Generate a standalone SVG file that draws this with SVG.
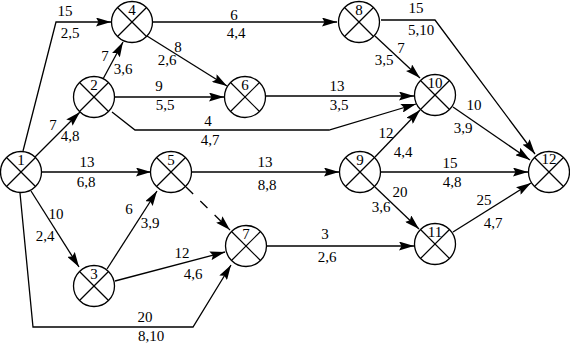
<svg xmlns="http://www.w3.org/2000/svg" width="570" height="344" viewBox="0 0 570 344" font-family="'Liberation Serif', 'DejaVu Serif', 'Times New Roman', serif">
<style>
text{font-family:'Liberation Serif','DejaVu Serif','Times New Roman',serif;font-size:15px;fill:#000;text-anchor:middle}
.c{fill:#fff;stroke:#000;stroke-width:1.3}
.x{stroke:#000;stroke-width:1.2}
.e{fill:none;stroke:#000;stroke-width:1.3;marker-end:url(#ah)}
.d{stroke-dasharray:10,10}
</style>
<defs>
<marker id="ah" markerUnits="userSpaceOnUse" viewBox="0 0 15 9" markerWidth="15" markerHeight="9" refX="15" refY="4.5" orient="auto">
<path d="M0,0 L15,4.5 L0,9 L2.5,4.5 z" fill="#000"/>
</marker>
<g id="cross"><line class="x" x1="-14.5" y1="-14.5" x2="14.5" y2="14.5"/><line class="x" x1="14.5" y1="-14.5" x2="-14.5" y2="14.5"/></g>
</defs>
<rect width="570" height="344" fill="#fff"/>
<g id="connectors">
<path class="e" d="M23,151 L56,22 L111,22"/>
<path class="e" d="M35,157 L80,112"/>
<path class="e" d="M42,172 L151,172"/>
<path class="e" d="M31,191 L79,267"/>
<path class="e" d="M20,193 L33,327 L193,327 L231,265"/>
<path class="e" d="M103,79 L123,42"/>
<path class="e" d="M115,97 L224,97"/>
<path class="e" d="M112,112 L135,130 L329,130 L416,104"/>
<path class="e" d="M147,36 L227,86"/>
<path class="e" d="M153,22 L337,22"/>
<path class="e" d="M266,96 L414,96"/>
<path class="e" d="M375,36 L420,78"/>
<path class="e" d="M381,20 L435,20 L535,154"/>
<path class="e" d="M453,107 L530,160"/>
<path class="e" d="M375,157 L420,110"/>
<path class="e" d="M381,172 L528,172"/>
<path class="e" d="M375,187 L419,229"/>
<path class="e" d="M192,172 L339,172"/>
<path class="e d" d="M186,187 L230,230"/>
<path class="e" d="M107,269 L157,191"/>
<path class="e" d="M115,281 L225,252"/>
<path class="e" d="M267,246 L414,246"/>
<path class="e" d="M453,232 L531,183"/>
<text x="65" y="16">15</text><text x="70" y="38">2,5</text>
<text x="53" y="130">7</text><text x="70" y="141">4,8</text>
<text x="87" y="167">13</text><text x="86" y="187">6,8</text>
<text x="56" y="219">10</text><text x="45" y="241">2,4</text>
<text x="145" y="322">20</text><text x="151" y="341">8,10</text>
<text x="105" y="61">7</text><text x="123" y="74">3,6</text>
<text x="159" y="91">9</text><text x="165" y="110">5,5</text>
<text x="208" y="126">4</text><text x="210" y="145">4,7</text>
<text x="178" y="52">8</text><text x="167" y="65">2,6</text>
<text x="234" y="20">6</text><text x="236" y="38">4,4</text>
<text x="337" y="91">13</text><text x="339" y="110">3,5</text>
<text x="401" y="53">7</text><text x="384" y="65">3,5</text>
<text x="416" y="13">15</text><text x="421" y="35">5,10</text>
<text x="474" y="110">10</text><text x="463" y="133">3,9</text>
<text x="386" y="138">12</text><text x="403" y="157">4,4</text>
<text x="450" y="168">15</text><text x="452" y="187">4,8</text>
<text x="400" y="197">20</text><text x="381" y="212">3,6</text>
<text x="265" y="167">13</text><text x="267" y="190">8,8</text>
<text x="129" y="214">6</text><text x="150" y="228">3,9</text>
<text x="182" y="258">12</text><text x="193" y="279">4,6</text>
<text x="325" y="239">3</text><text x="327" y="262">2,6</text>
<text x="484" y="205">25</text><text x="493" y="228">4,7</text>
</g>
<g id="n1"><circle class="c" cx="21" cy="172" r="20.5"/><use href="#cross" x="21" y="172"/><text x="21" y="165">1</text></g>
<g id="n2"><circle class="c" cx="94" cy="97" r="20.5"/><use href="#cross" x="94" y="97"/><text x="94" y="90">2</text></g>
<g id="n3"><circle class="c" cx="94" cy="286" r="20.5"/><use href="#cross" x="94" y="286"/><text x="94" y="279">3</text></g>
<g id="n4"><circle class="c" cx="132" cy="22" r="20.5"/><use href="#cross" x="132" y="22"/><text x="132" y="15">4</text></g>
<g id="n5"><circle class="c" cx="171" cy="172" r="20.5"/><use href="#cross" x="171" y="172"/><text x="171" y="165">5</text></g>
<g id="n6"><circle class="c" cx="245" cy="97" r="20.5"/><use href="#cross" x="245" y="97"/><text x="245" y="90">6</text></g>
<g id="n7"><circle class="c" cx="246" cy="246" r="20.5"/><use href="#cross" x="246" y="246"/><text x="246" y="239">7</text></g>
<g id="n8"><circle class="c" cx="359" cy="22" r="20.5"/><use href="#cross" x="359" y="22"/><text x="359" y="15">8</text></g>
<g id="n9"><circle class="c" cx="360" cy="172" r="20.5"/><use href="#cross" x="360" y="172"/><text x="360" y="165">9</text></g>
<g id="n10"><circle class="c" cx="435" cy="95" r="20.5"/><use href="#cross" x="435" y="95"/><text x="435" y="88">10</text></g>
<g id="n11"><circle class="c" cx="435" cy="244" r="20.5"/><use href="#cross" x="435" y="244"/><text x="435" y="237">11</text></g>
<g id="n12"><circle class="c" cx="549" cy="172" r="20.5"/><use href="#cross" x="549" y="172"/><text x="549" y="164">12</text></g>
</svg>
